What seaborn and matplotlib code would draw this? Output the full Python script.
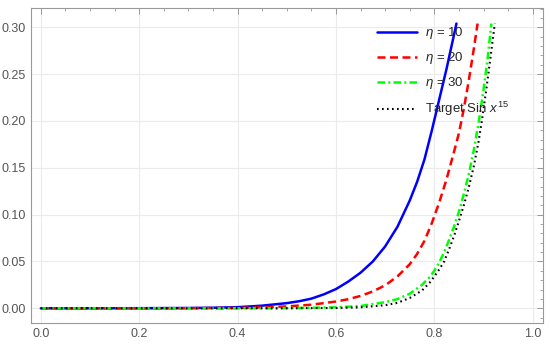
import matplotlib
matplotlib.use("Agg")
import matplotlib.pyplot as plt
import seaborn as sns
from matplotlib.ticker import MultipleLocator

# values
x_eta10 = [0.0, 0.1, 0.2, 0.3, 0.35, 0.4, 0.45, 0.5, 0.525, 0.55, 0.575, 0.6, 0.625,
           0.65, 0.675, 0.7, 0.725, 0.75, 0.765, 0.78, 0.795, 0.81, 0.825, 0.835, 0.845]
y_eta10 = [0.0, 0.0, 0.0001, 0.0003, 0.0006, 0.0012, 0.0028, 0.0055, 0.0075, 0.0103,
           0.0148, 0.0205, 0.0285, 0.038, 0.050, 0.066, 0.087, 0.115, 0.135, 0.159,
           0.19, 0.223, 0.256, 0.28, 0.304]

x_eta20 = [0.0, 0.1, 0.2, 0.3, 0.4, 0.45, 0.5, 0.55, 0.6, 0.625, 0.65, 0.675, 0.7,
           0.725, 0.75, 0.765, 0.78, 0.795, 0.81, 0.825, 0.84, 0.85, 0.86, 0.87, 0.88,
           0.888]
y_eta20 = [0.0, 0.0, 0.0, 0.0001, 0.0004, 0.001, 0.002, 0.0038, 0.0072, 0.0097, 0.0132,
           0.018, 0.0245, 0.034, 0.047, 0.058, 0.072, 0.091, 0.113, 0.138, 0.167, 0.187,
           0.213, 0.243, 0.276, 0.304]

x_eta30 = [0.0, 0.2, 0.4, 0.5, 0.6, 0.65, 0.7, 0.725, 0.75, 0.775, 0.79, 0.8, 0.81,
           0.82, 0.83, 0.84, 0.85, 0.86, 0.87, 0.88, 0.89, 0.9, 0.908, 0.916]
y_eta30 = [0.0, 0.0, 0.0, 0.0002, 0.001, 0.0024, 0.0065, 0.0098, 0.0155, 0.025, 0.033,
           0.04, 0.049, 0.06, 0.073, 0.087, 0.103, 0.122, 0.143, 0.168, 0.198, 0.233,
           0.265, 0.304]

x_target = [0.0, 0.2, 0.4, 0.5, 0.6, 0.65, 0.7, 0.725, 0.75, 0.775, 0.79, 0.8, 0.81,
            0.82, 0.83, 0.84, 0.85, 0.86, 0.87, 0.88, 0.89, 0.898, 0.906, 0.914, 0.923]
y_target = [0.0, 0.0, 0.0, 0.0, 0.0003, 0.001, 0.0033, 0.0058, 0.011, 0.019, 0.027,
            0.034, 0.0415, 0.05, 0.063, 0.077, 0.093, 0.11, 0.129, 0.151, 0.178, 0.205,
            0.235, 0.267, 0.304]

labels = [r"$\eta$ = 10", r"$\eta$ = 20", r"$\eta$ = 30", r"Target Sin $x^{15}$"]

sns.set_style("whitegrid")
plt.rcParams["font.family"] = ["Liberation Sans", "DejaVu Sans"]
plt.rcParams["mathtext.fontset"] = "custom"
plt.rcParams["mathtext.rm"] = "Liberation Sans"
plt.rcParams["mathtext.it"] = "Liberation Sans:italic"

fig = plt.figure(figsize=(5.5, 3.45), dpi=100)
ax = fig.add_axes([0.0564, 0.0638, 0.93, 0.913])

sns.lineplot(x=x_eta10, y=y_eta10, ax=ax, color="#0000ff", lw=1.8,
             label=labels[0])
sns.lineplot(x=x_eta20, y=y_eta20, ax=ax, color="#ff0000", lw=1.8,
             linestyle=(0, (3.2, 1.8)), label=labels[1])
sns.lineplot(x=x_eta30, y=y_eta30, ax=ax, color="#00ff00", lw=1.8,
             linestyle=(0, (3.0, 1.3, 0.8, 1.3)), label=labels[2])
sns.lineplot(x=x_target, y=y_target, ax=ax, color="black", lw=1.5,
             linestyle=(0, (0.8, 1.6)), label=labels[3])

ax.set_xlim(-0.02, 1.02)
ax.set_ylim(-0.0157, 0.3206)
ax.xaxis.set_major_locator(MultipleLocator(0.2))
ax.xaxis.set_minor_locator(MultipleLocator(0.05))
ax.yaxis.set_major_locator(MultipleLocator(0.05))
ax.yaxis.set_minor_locator(MultipleLocator(0.01))
ax.xaxis.set_major_formatter(lambda v, p: f"{v:.1f}")
ax.yaxis.set_major_formatter(lambda v, p: f"{v:.2f}")

ax.grid(True, which="major", color="#ebebeb", lw=0.8)
ax.grid(False, which="minor")
for s in ax.spines.values():
    s.set_color("#999999")
    s.set_linewidth(0.8)
ax.tick_params(which="both", direction="in", top=True, right=True,
               color="#999999", labelcolor="#555555", labelsize=9)
ax.tick_params(which="major", length=4, width=0.7)
ax.tick_params(which="minor", length=2, width=0.6)
ax.set_xlabel("")
ax.set_ylabel("")

ax.legend(loc="upper left", bbox_to_anchor=(0.677, 0.945), frameon=False,
          fontsize=9.5, handlelength=3.0, handletextpad=0.6, labelspacing=0.68,
          borderpad=0, borderaxespad=0)

fig.savefig("out.png", dpi=100)
